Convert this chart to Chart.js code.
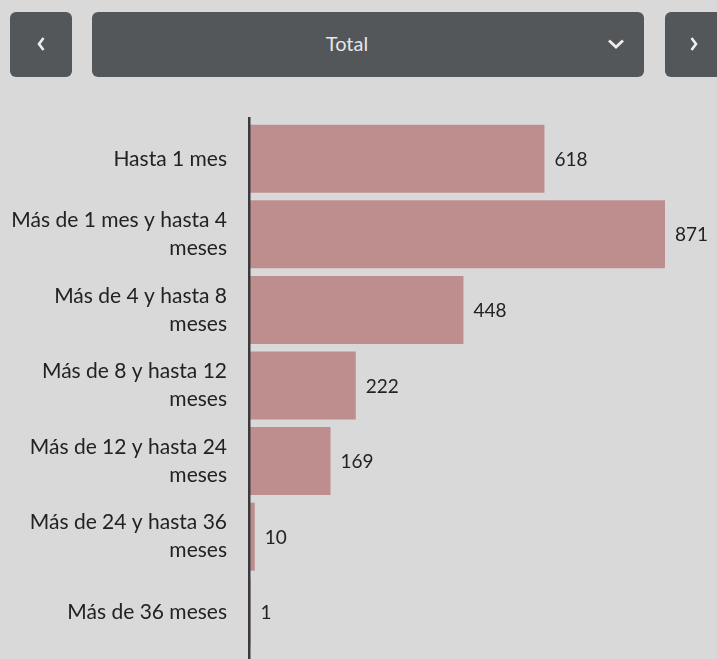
<!DOCTYPE html>
<html><head><meta charset="utf-8">
<script src="https://cdn.jsdelivr.net/npm/chart.js@4/dist/chart.umd.min.js"></script>
<style>
html,body{margin:0;padding:0;background:#d9d9d9;width:717px;height:659px;overflow:hidden;font-family:Lato,"Open Sans",sans-serif;}
.btn{position:absolute;top:12px;height:65px;background:#53575a;border-radius:6px;color:#e6e6e6;font-size:20px;}
#prev{left:10px;width:62px;}
#sel{left:92px;width:552px;}
#next{left:665px;width:70px;}
.btn svg{position:absolute;}
#sel .txt{position:absolute;left:0;width:510px;top:0;height:65px;line-height:63px;text-align:center;}
#wrap{position:absolute;left:0;top:0;width:717px;height:659px;overflow:hidden;}
</style></head><body>
<div class="btn" id="prev"><svg style="left:26px;top:24px" width="10" height="16" viewBox="0 0 10 16"><path d="M7.5 2 L3 8 L7.5 14" stroke="#eee" stroke-width="2.6" fill="none"/></svg></div>
<div class="btn" id="sel"><div class="txt">Total</div><svg style="left:515px;top:26px" width="18" height="12" viewBox="0 0 18 12"><path d="M2 2.5 L9 9 L16 2.5" stroke="#eee" stroke-width="2.8" fill="none"/></svg></div>
<div class="btn" id="next"><svg style="left:24px;top:24px" width="10" height="16" viewBox="0 0 10 16"><path d="M2.5 2 L7 8 L2.5 14" stroke="#eee" stroke-width="2.6" fill="none"/></svg></div>
<div id="wrap"><canvas id="c" width="717" height="687"></canvas></div>
<script>
const categories = [
  "Hasta 1 mes",
  ["Más de 1 mes y hasta 4", "meses"],
  ["Más de 4 y hasta 8", "meses"],
  ["Más de 8 y hasta 12", "meses"],
  ["Más de 12 y hasta 24", "meses"],
  ["Más de 24 y hasta 36", "meses"],
  "Más de 36 meses"
];
const values = [618, 871, 448, 222, 169, 10, 1];
const barColor = "#be8e8e";

const axisLine = {
  id: "axisLine",
  afterDatasetsDraw(chart) {
    const {ctx, chartArea} = chart;
    ctx.save();
    ctx.fillStyle = "#3a3a3a";
    ctx.fillRect(chartArea.left - 2, chartArea.top - 4, 2.5, chart.height - chartArea.top + 4);
    ctx.restore();
  }
};
const valueLabels = {
  id: "valueLabels",
  afterDatasetsDraw(chart) {
    const {ctx} = chart;
    const meta = chart.getDatasetMeta(0);
    ctx.save();
    ctx.font = "19px Lato";
    ctx.fillStyle = "#222";
    ctx.textAlign = "left";
    ctx.textBaseline = "middle";
    meta.data.forEach((bar, i) => {
      ctx.fillText(String(values[i]), bar.x + 10, bar.y + 1);
    });
    ctx.restore();
  }
};

new Chart(document.getElementById("c"), {
  type: "bar",
  data: {labels: categories, datasets: [{data: values, backgroundColor: barColor, borderWidth: 0, categoryPercentage: 1, barPercentage: 0.9}]},
  options: {
    indexAxis: "y",
    responsive: false,
    animation: false,
    layout: {padding: {top: 121, bottom: 13, right: 52, left: 0}},
    plugins: {legend: {display: false}, tooltip: {enabled: false}},
    scales: {
      x: {display: false, min: 0, max: 871},
      y: {
        grid: {display: false, drawTicks: false},
        border: {display: false},
        ticks: {padding: 23, color: "#222", font: {family: "Lato", size: 21, lineHeight: 1.33}},
        afterFit(scale) { scale.width = 250; }
      }
    }
  },
  plugins: [axisLine, valueLabels]
});
</script>
</body></html>
